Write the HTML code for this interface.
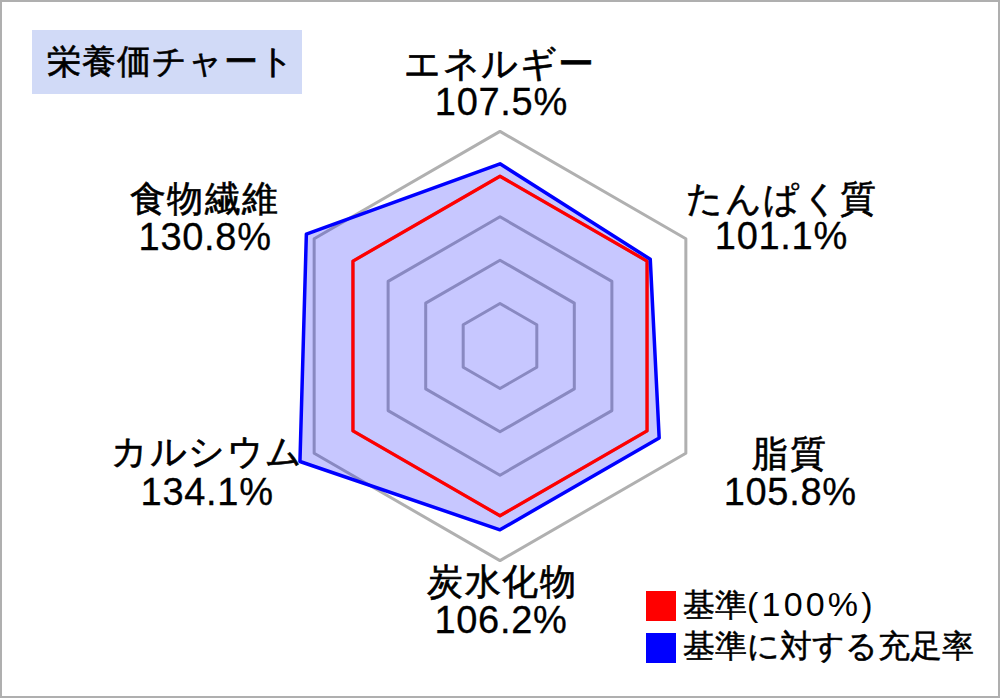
<!DOCTYPE html>
<html><head><meta charset="utf-8"><style>
html,body{margin:0;padding:0;background:#fff}
body{width:1000px;height:698px;position:relative;overflow:hidden;font-family:"Liberation Sans",sans-serif;color:#000}
.frame{position:absolute;left:0;top:0;width:996px;height:694px;border:2px solid #afafaf}
.title{position:absolute;left:32px;top:30px;width:270px;height:64px;background:#d1daf7}
.tt{position:absolute;white-space:nowrap;font-size:34px;line-height:48px;letter-spacing:1px;-webkit-text-stroke:0.6px #000}
svg{position:absolute;left:0;top:0}
.l1,.l2{position:absolute;width:400px;text-align:center;white-space:nowrap;line-height:48px}
.l1{font-size:36px;letter-spacing:1.5px;-webkit-text-stroke:0.6px #000}
.l2{font-size:38px;letter-spacing:0.7px;-webkit-text-stroke:0.3px #000}
.sq{position:absolute;left:646px;width:30px;height:30px}
.lg{position:absolute;white-space:nowrap;font-size:32px;line-height:44px;-webkit-text-stroke:0.5px #000}
.lg b{font-weight:normal;font-size:34px;letter-spacing:3.2px;-webkit-text-stroke:0}
</style></head><body>
<div class="frame"></div>
<div class="title"></div>
<div class="tt" style="left:47.1px;top:36.8px">栄養価チャート</div>
<svg width="1000" height="698" viewBox="0 0 1000 698">
<g fill="none" stroke="#b0b0b0" stroke-width="3" stroke-linejoin="round">
<polygon points="500.00,303.50 536.81,324.75 536.81,367.25 500.00,388.50 463.19,367.25 463.19,324.75"/>
<polygon points="500.00,260.20 574.30,303.10 574.30,388.90 500.00,431.80 425.70,388.90 425.70,303.10"/>
<polygon points="500.00,216.80 611.89,281.40 611.89,410.60 500.00,475.20 388.11,410.60 388.11,281.40"/>
<polygon points="500.00,176.20 647.05,261.10 647.05,430.90 500.00,515.80 352.95,430.90 352.95,261.10"/>
<polygon points="500.00,131.40 685.85,238.70 685.85,453.30 500.00,560.60 314.15,453.30 314.15,238.70"/>
</g>
<polygon points="500.00,163.80 650.26,259.25 659.18,437.90 500.00,529.80 299.95,461.50 306.36,234.20" fill="rgba(0,0,255,0.22)" stroke="none"/>
<polygon points="500.00,176.20 647.05,261.10 647.05,430.90 500.00,515.80 352.95,430.90 352.95,261.10" fill="none" stroke="#ff0000" stroke-width="3.3" stroke-linejoin="round"/>
<polygon points="500.00,163.80 650.26,259.25 659.18,437.90 500.00,529.80 299.95,461.50 306.36,234.20" fill="none" stroke="#0000ff" stroke-width="3.5" stroke-linejoin="round"/>
</svg>
<div class="l1" style="left:300.0px;top:39.9px">エネルギー</div>
<div class="l2" style="left:301.4px;top:78.2px">107.5%</div>
<div class="l1" style="left:582.0px;top:174.6px">たんぱく質</div>
<div class="l2" style="left:581.4px;top:212.0px">101.1%</div>
<div class="l1" style="left:589.9px;top:430.2px">脂質</div>
<div class="l2" style="left:590.2px;top:468.0px">105.8%</div>
<div class="l1" style="left:302.3px;top:558.2px">炭水化物</div>
<div class="l2" style="left:301.0px;top:595.6px">106.2%</div>
<div class="l1" style="left:4.9px;top:175.2px">食物繊維</div>
<div class="l2" style="left:5.1px;top:213.0px">130.8%</div>
<div class="l1" style="left:7.4px;top:428.0px">カルシウム</div>
<div class="l2" style="left:7.1px;top:468.2px">134.1%</div>
<div class="sq" style="top:591px;background:#ff0000"></div>
<div class="sq" style="top:633px;background:#0000ff"></div>
<div class="lg" style="left:683.0px;top:581.8px">基準<b>(100%)</b></div>
<div class="lg" style="left:683.2px;top:623.8px">基準に対する充足率</div>
</body></html>
